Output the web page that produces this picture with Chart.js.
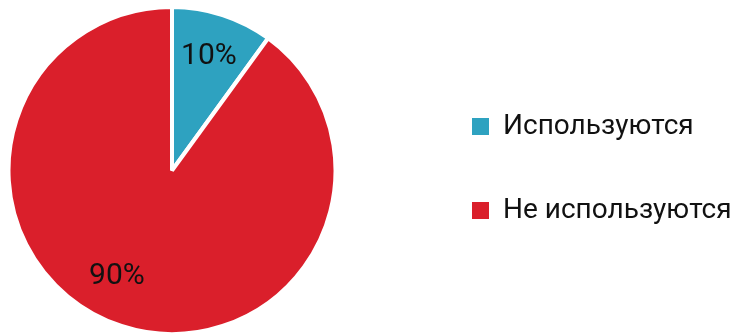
<!DOCTYPE html>
<html>
<head>
<meta charset="utf-8">
<script src="https://cdn.jsdelivr.net/npm/chart.js@4.4.0/dist/chart.umd.min.js"></script>
<style>
  html, body { margin: 0; padding: 0; background: #fff; }
  #wrap { width: 737px; height: 333px; }
</style>
</head>
<body>
<div id="wrap"><canvas id="pieChart" width="737" height="333"></canvas></div>
<script>
// data
var categories = ['Используются', 'Не используются'];
var shares = [10, 90];
var sliceColors = ['#2ea2c0', '#da1f2b'];
var labelShift = [0, 9.5]; // degrees, to sit the % text like the original

var legendFont = '28px Roboto';
var itemX = 472;        // left of legend squares
var legendGap = 56;
// box the pie is centred in (runs a little past the bottom edge, as in the original)
var pieBox = { left: 0, right: 344, top: 5, bottom: 336 };

// measure widest legend text so the legend sits where the original has it
var mctx = document.createElement('canvas').getContext('2d');
mctx.font = legendFont;
var textW = Math.max.apply(null, categories.map(function(c) { return mctx.measureText(c).width; }));
var colW = 17 + 14 + textW;
var legendLeft = itemX - legendGap;
var padRight = 737 - legendLeft - (legendGap + colW + 10);

/*-----pie sits left of the legend, not centred in the gap-----*/
var pieArea = {
	id: 'pieArea',
	afterLayout: function(chart) {
		var a = chart.chartArea;
		a.left = pieBox.left;
		a.right = pieBox.right;
		a.top = pieBox.top;
		a.bottom = pieBox.bottom;
		a.width = pieBox.right - pieBox.left;
		a.height = pieBox.bottom - pieBox.top;
	}
};

/*-----slice % labels-----*/
var sliceLabels = {
	id: 'sliceLabels',
	afterDatasetsDraw: function(chart) {
		var ctx = chart.ctx;
		var meta = chart.getDatasetMeta(0);
		var total = shares.reduce(function(a, b) { return a + b; }, 0);
		ctx.save();
		ctx.font = '30px Roboto';
		ctx.fillStyle = '#111';
		ctx.textAlign = 'center';
		ctx.textBaseline = 'middle';
		meta.data.forEach(function(arc, i) {
			var p = arc.getProps(['x', 'y', 'startAngle', 'endAngle', 'outerRadius'], true);
			var a = (p.startAngle + p.endAngle) / 2 + labelShift[i] * Math.PI / 180;
			var d = p.outerRadius * 0.73;
			ctx.fillText(Math.round(shares[i] / total * 100) + '%', p.x + Math.cos(a) * d, p.y + Math.sin(a) * d);
		});
		ctx.restore();
	}
};

var ctx = document.getElementById('pieChart');
var myChart = new Chart(ctx, {
	type: 'pie',
	data: {
		labels: categories,
		datasets: [{
			data: shares,
			backgroundColor: sliceColors,
			borderColor: '#ffffff',
			borderWidth: 4
		}]
	},
	options: {
		responsive: false,
		animation: false,
		layout: {
			padding: { top: 4, bottom: 0, left: 0, right: padRight }
		},
		plugins: {
			tooltip: { enabled: false },
			legend: {
				position: 'right',
				labels: {
					boxWidth: 17,
					boxHeight: 17,
					padding: legendGap,
					color: '#111',
					font: { family: 'Roboto', size: 28 },
					generateLabels: function(chart) {
						return Chart.overrides.pie.plugins.legend.labels.generateLabels(chart).map(function(l) {
							l.lineWidth = 0;
							return l;
						});
					}
				}
			}
		}
	},
	plugins: [pieArea, sliceLabels]
});
</script>
</body>
</html>
